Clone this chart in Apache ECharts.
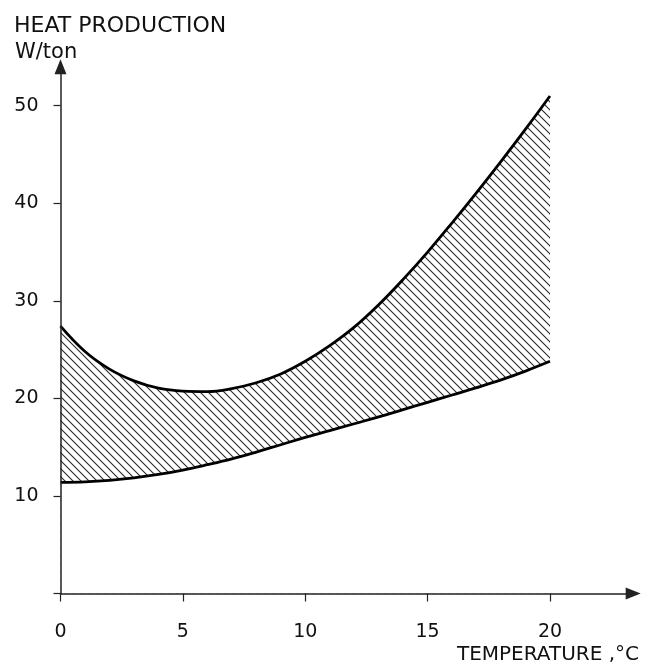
<!DOCTYPE html>
<html>
<head>
<meta charset="utf-8">
<script src="https://cdn.jsdelivr.net/npm/echarts@6/dist/echarts.min.js"></script>
<style>
html,body{margin:0;padding:0;background:#fff;}
#chart{width:647px;height:663px;}
</style>
</head>
<body>
<div id="chart"></div>
<script>
// Temperature (°C)
const temperature = [0,1,2,3,4,5,6,7,8,9,10,11,12,13,14,15,16,17,18,19,20];
// Upper boundary of heat production (W/ton)
const upperHeat = [27.4,24.8,23.0,21.8,21.05,20.75,20.7,21.0,21.6,22.5,23.8,25.4,27.3,29.6,32.2,35.0,38.0,41.1,44.3,47.6,51.0];
// Lower boundary of heat production (W/ton)
const lowerHeat = [11.4,11.45,11.6,11.85,12.2,12.65,13.2,13.8,14.5,15.25,16.0,16.7,17.4,18.1,18.85,19.6,20.35,21.1,21.9,22.8,23.8];
// Axis ticks and labels
const xTickValues = [0,5,10,15,20];
const yTickValues = [0,10,20,30,40,50];
const yLabelValues = [10,20,30,40,50];

const FONT = 'DejaVu Sans';
const INK = '#111111';

function hatchPattern() {
  const c = document.createElement('canvas');
  c.width = 8; c.height = 8;
  const g = c.getContext('2d');
  g.fillStyle = '#ffffff';
  g.fillRect(0,0,8,8);
  g.strokeStyle = '#2a2a2a';
  g.lineWidth = 1.1;
  g.beginPath();
  g.moveTo(-1,-1); g.lineTo(9,9);
  g.moveTo(-1,7); g.lineTo(1,9);
  g.moveTo(7,-1); g.lineTo(9,1);
  g.stroke();
  return c;
}

const upperData = temperature.map((t,i)=>[t, upperHeat[i]]);
const lowerData = temperature.map((t,i)=>[t, lowerHeat[i]]);

const chart = echarts.init(document.getElementById('chart'), null, {renderer:'canvas'});
chart.setOption({
  backgroundColor: '#ffffff',
  animation: false,
  title: [
    {text:'HEAT PRODUCTION', left: 9, top: 10, textStyle:{fontFamily:FONT, fontSize:22, fontWeight:'normal', color:INK}},
    {text:'W/ton', left: 10, top: 37, textStyle:{fontFamily:FONT, fontSize:21, fontWeight:'normal', color:INK}},
    {text:'TEMPERATURE ,°C', right: 3, top: 640, textStyle:{fontFamily:FONT, fontSize:20, fontWeight:'normal', color:INK}}
  ],
  grid: {left: 60.5, right: 13.8, top: 66.7, bottom: 69.5, containLabel:false, outerBoundsMode:'none'},
  xAxis: {
    type:'value', min:0, max:23.4, z:10,
    splitLine:{show:false},
    axisLine:{show:true, onZero:true, symbol:['none','triangle'], symbolSize:[12,15], lineStyle:{color:'#222', width:1.5}},
    axisTick:{show:true, length:8, customValues:xTickValues, lineStyle:{color:'#222', width:1.2}},
    axisLabel:{customValues:xTickValues, margin:29, fontFamily:FONT, fontSize:19, color:INK}
  },
  yAxis: {
    type:'value', min:0, max:54, z:10,
    splitLine:{show:false},
    axisLine:{show:true, onZero:false, symbol:['none','triangle'], symbolSize:[12,15], lineStyle:{color:'#222', width:1.5}},
    axisTick:{show:true, length:7, customValues:yTickValues, lineStyle:{color:'#222', width:1.2}},
    axisLabel:{customValues:yLabelValues, margin:22, fontFamily:FONT, fontSize:19, color:INK}
  },
  series: [
    {
      type:'line', name:'upper', data:upperData, smooth:0.4, symbol:'none', z:1,
      lineStyle:{color:'#000', width:2.8},
      areaStyle:{color:{image:hatchPattern(), repeat:'repeat'}, opacity:1}
    },
    {
      type:'line', name:'lower', data:lowerData, smooth:0.4, symbol:'none', z:2,
      lineStyle:{color:'#000', width:2.8},
      areaStyle:{color:'#ffffff', opacity:1}
    }
  ]
});
</script>
</body>
</html>
